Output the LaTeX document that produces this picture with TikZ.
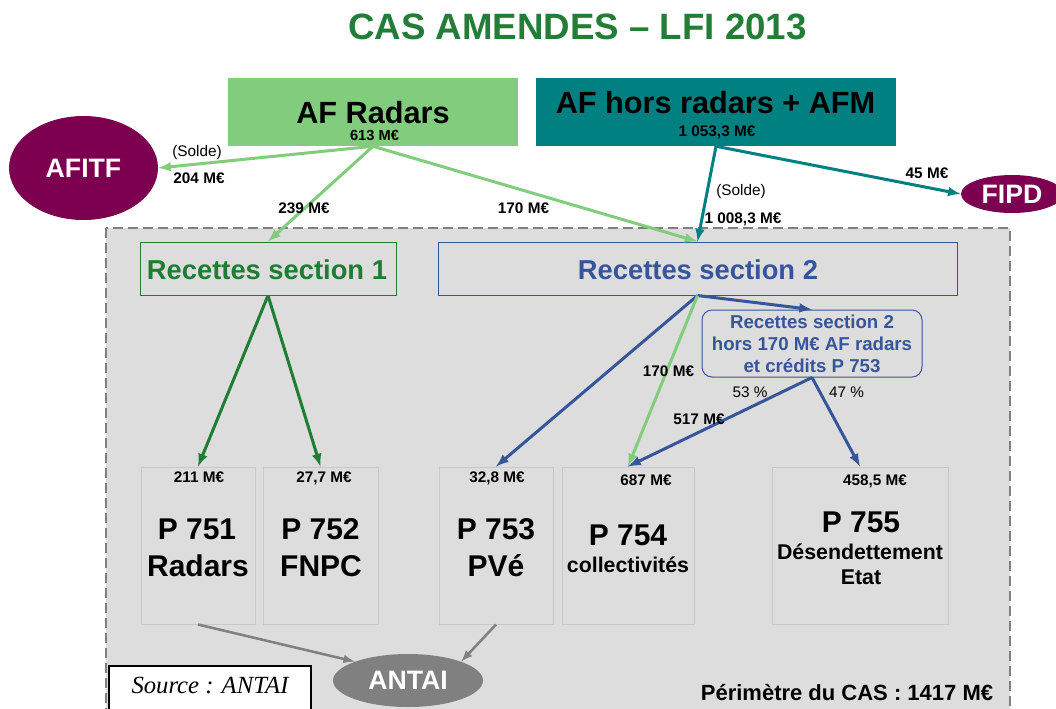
\documentclass[tikz,border=0pt]{standalone}
\usepackage{fontspec}
\setmainfont{Liberation Sans}
\newfontfamily\timesfont{Liberation Serif}
\usetikzlibrary{shapes.geometric}

\definecolor{titlegreen}{RGB}{35,125,55}
\definecolor{radargreen}{RGB}{130,205,125}
\definecolor{afmteal}{RGB}{0,128,128}
\definecolor{fundpurple}{RGB}{125,0,80}
\definecolor{secgreen}{RGB}{30,125,50}
\definecolor{secblue}{RGB}{55,85,155}
\definecolor{casgrey}{RGB}{221,221,221}
\definecolor{progline}{RGB}{200,200,200}
\definecolor{antaigrey}{RGB}{128,128,128}

\begin{document}
\begin{tikzpicture}[x=0.75pt, y=-0.75pt,
    every node/.append style={inner sep=0pt},
    amount/.style={anchor=base, font=\fontsize{11.5}{13}\selectfont\bfseries},
    note/.style={anchor=base, font=\fontsize{11.5}{13}\selectfont},
    big/.style={anchor=base, font=\fontsize{22.5}{26}\selectfont\bfseries},
    sub/.style={anchor=base, font=\fontsize{16}{19}\selectfont\bfseries},
    fund/.style={ellipse, fill=fundpurple, text=white, font=\fontsize{20}{24}\selectfont\bfseries},
    prog/.style={draw=progline, line width=0.75pt, minimum height=117.75pt},
    radarflow/.style={draw=radargreen, line width=2.25pt},
    afmflow/.style={draw=afmteal, line width=2.25pt},
    greenflow/.style={draw=secgreen, line width=2.25pt},
    blueflow/.style={draw=secblue, line width=2.25pt},
    greyflow/.style={draw=antaigrey, line width=1.9pt}]
    \useasboundingbox (0,0) rectangle (1056,708);

    % perimetre du CAS
    \filldraw [fill=casgrey, draw=antaigrey, line width=1.1pt, dash pattern=on 7.5pt off 3.75pt] (106,228) rectangle (1010,720);

    \node [anchor=base, text=titlegreen, font=\fontsize{27.5}{32}\selectfont\bfseries] (title) at (577.5,39) {CAS AMENDES -- LFI 2013};

    % sources
    \node [fill=radargreen, minimum width=217.5pt, minimum height=51pt] (radars) at (373,112) {};
    \node [big, font=\fontsize{23}{27}\selectfont\bfseries] (radarst) at (373,123) {AF Radars};
    \node [amount, font=\fontsize{11}{13}\selectfont\bfseries] (radarsv) at (374.5,140) {613 M€};
    \node [fill=afmteal, minimum width=270pt, minimum height=51pt] (afm) at (716,112) {};
    \node [big, font=\fontsize{23}{27}\selectfont\bfseries] (afmt) at (715.5,113) {AF hors radars + AFM};
    \node [amount] (afmv) at (717,136) {1 053,3 M€};

    \node [fund, minimum width=111.75pt, minimum height=78pt] (afitf) at (83.5,168) {AFITF};
    \node [fund, minimum width=76.5pt, minimum height=28.5pt] (fipd) at (1012,194) {FIPD};

    % sections
    \node [draw=secgreen, line width=0.75pt, minimum width=192pt, minimum height=39.75pt] (sec1) at (268,268.5) {};
    \node [anchor=base, text=secgreen, font=\fontsize{20.5}{24}\selectfont\bfseries] (sec1t) at (267,279) {Recettes section 1};
    \node [draw=secblue, line width=0.75pt, minimum width=389.25pt, minimum height=39.75pt] (sec2) at (697.5,268.5) {};
    \node [anchor=base, text=secblue, font=\fontsize{20.5}{24}\selectfont\bfseries] (sec2t) at (698,279) {Recettes section 2};
    \node [draw=secblue, line width=0.75pt, rounded corners=7.5pt, minimum width=165pt, minimum height=50.25pt,
        align=center, text=secblue, font=\fontsize{14}{16.5}\selectfont\bfseries] (rest) at (812,343.5)
        {Recettes section 2\\hors 170 M€ AF radars\\et crédits P 753};

    % programmes
    \node [prog, minimum width=85.5pt] (p751) at (198,545.5) {};
    \node [prog, minimum width=86.25pt] (p752) at (320.5,545.5) {};
    \node [prog, minimum width=85.5pt] (p753) at (496,545.5) {};
    \node [prog, minimum width=99pt] (p754) at (628,545.5) {};
    \node [prog, minimum width=132pt] (p755) at (860,545.5) {};

    \node [amount] (p751v) at (199,482) {211 M€};
    \node [big] (p751t) at (197,539) {P 751};
    \node [big] (p751n) at (198,576) {Radars};
    \node [amount] (p752v) at (324,482) {27,7 M€};
    \node [big] (p752t) at (320.5,539) {P 752};
    \node [big] (p752n) at (321,576) {FNPC};
    \node [amount] (p753v) at (497,482) {32,8 M€};
    \node [big] (p753t) at (496,539) {P 753};
    \node [big] (p753n) at (496,576) {PVé};
    \node [amount] (p754v) at (646,485) {687 M€};
    \node [big] (p754t) at (628,545) {P 754};
    \node [sub] (p754n) at (628,572) {collectivités};
    \node [amount] (p755v) at (875,485) {458,5 M€};
    \node [big] (p755t) at (861,532) {P 755};
    \node [sub] (p755n) at (860,559) {Désendettement};
    \node [sub] (p755m) at (861,584) {Etat};

    \node [ellipse, fill=antaigrey, text=white, font=\fontsize{20}{24}\selectfont\bfseries,
        minimum width=112.5pt, minimum height=39.75pt] (antai) at (408,680.5) {ANTAI};
    \node [draw=black, fill=white, line width=1.1pt, minimum width=151.5pt, minimum height=40.5pt] (source) at (210,693) {};
    \node [anchor=base, font=\timesfont\itshape\fontsize{18.5}{22}\selectfont] (sourcet) at (210,693) {Source : ANTAI};
    \node [anchor=base, font=\fontsize{16.5}{19}\selectfont\bfseries] (perim) at (847,700) {Périmètre du CAS : 1417 M€};

    % flows
    \path (radars.south) edge [-latex, radarflow] (afitf.east);
    \path (radars.south) edge [-latex, radarflow] (sec1.north);
    \path (radars.south) edge [-latex, radarflow] (sec2.north);
    \path (afm.south) edge [-latex, afmflow] (sec2.north);
    \path (afm.south) edge [-latex, afmflow] (fipd.west);
    \path (sec1.south) edge [-latex, greenflow] (p751.north);
    \path (sec1.south) edge [-latex, greenflow] (p752.north);
    \path (sec2.south) edge [-latex, blueflow] (p753.north);
    \path (sec2.south) edge [-latex, blueflow] (rest.north);
    \path (sec2.south) edge [-latex, radarflow] (p754.north);
    \path (rest.south) edge [-latex, blueflow] (p754.north);
    \path (rest.south) edge [-latex, blueflow] (p755.north);
    \path (p751.south) edge [-latex, greyflow] (antai.north west);
    \path (p753.south) edge [-latex, greyflow] (antai.north east);

    % flow labels
    \node [note] (solde1) at (197,156) {(Solde)};
    \node [amount] (v204) at (199,183) {204 M€};
    \node [amount] (v239) at (304,213) {239 M€};
    \node [amount] (v170a) at (523.5,213) {170 M€};
    \node [note] (solde2) at (741,195) {(Solde)};
    \node [amount] (v1008) at (743,223) {1 008,3 M€};
    \node [amount] (v45) at (927,178) {45 M€};
    \node [amount] (v170b) at (668.5,376) {170 M€};
    \node [note] (pc53) at (750,397) {53 \%};
    \node [note] (pc47) at (846.5,397) {47 \%};
    \node [amount] (v517) at (699,424) {517 M€};
\end{tikzpicture}
\end{document}
